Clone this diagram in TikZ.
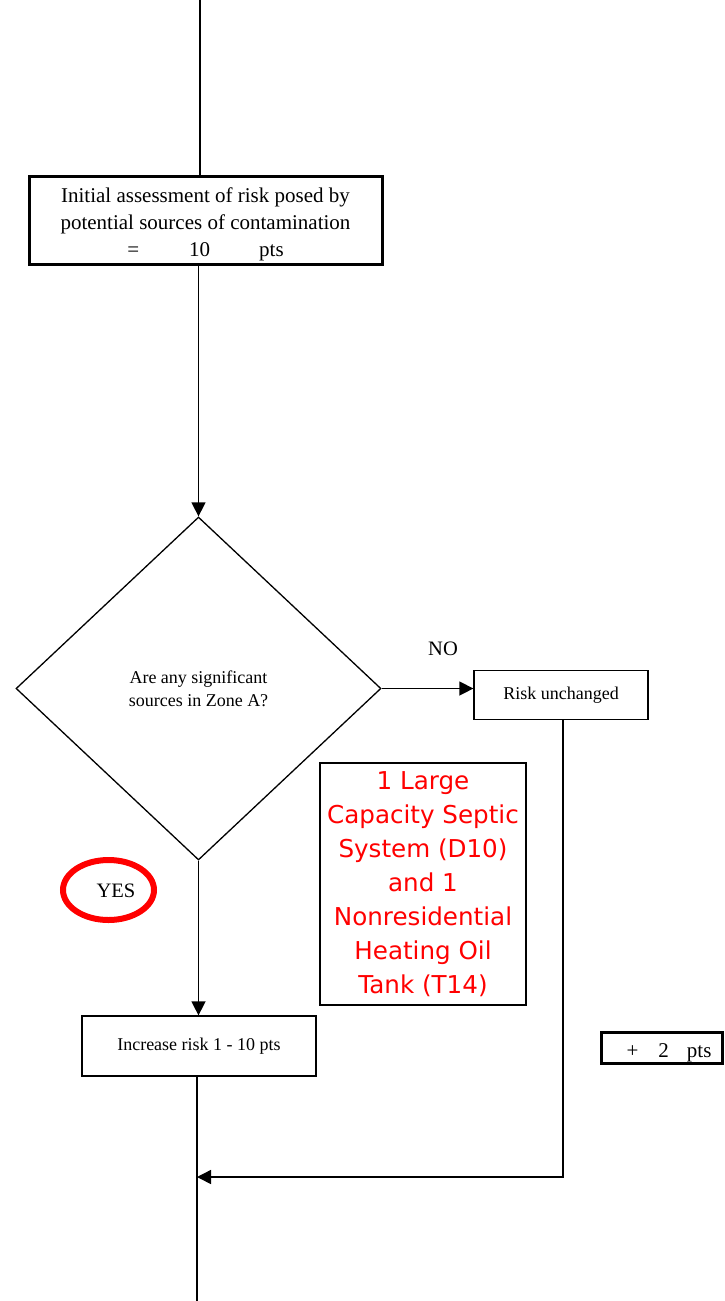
\documentclass[tikz,border=0pt]{standalone}
\usepackage{fontspec}
\setmainfont{Liberation Serif}
\newfontfamily\redsans{DejaVu Sans}
\usetikzlibrary{shapes.geometric,arrows.meta}
\begin{document}
\begin{tikzpicture}[x=1pt,y=-1pt,
  conn/.style={line width=1.5pt},
  arrowconn/.style={conn,-{Triangle[length=14pt,width=14pt]}},
  thinbox/.style={draw,line width=1.3pt,inner sep=0pt,font=\fontsize{18}{23}\selectfont},
  thickbox/.style={draw,line width=3pt,inner sep=0pt},
  bigtext/.style={font=\fontsize{21}{27}\selectfont,inner sep=0pt}]
\useasboundingbox (0,0) rectangle (725,1301);
% coordinates
\coordinate (top) at (200,0);
\coordinate (bot) at (197,1301);
\coordinate (merge) at (197,1177);
\coordinate (rturn) at (563,1177);
% nodes
\node[thickbox,minimum width=353pt,minimum height=88pt] (init) at (205.5,220) {};
\node[bigtext,align=center] (inittext) at (205.5,224) {Initial assessment of risk posed by\\potential sources of contamination\\=\hspace*{50pt}10\hspace*{49pt}pts};
\node[draw,shape=diamond,line width=1.3pt,minimum width=365pt,minimum height=343pt,inner sep=0pt,align=center,font=\fontsize{18}{23}\selectfont] (dia) at (198.5,688.5) {Are any significant\\sources in Zone A?};
\node[thinbox,minimum width=174pt,minimum height=49pt] (risk) at (561,695) {Risk unchanged};
\node[thinbox,minimum width=234pt,minimum height=60pt] (inc) at (199,1046) {Increase risk 1 - 10 pts};
\node[bigtext,anchor=base,font=\fontsize{20.5}{24}\selectfont] (no) at (443,655) {NO};
\node[draw=red,line width=6pt,shape=ellipse,minimum width=91pt,minimum height=60pt,inner sep=0pt] (yesring) at (108.5,890) {};
\node[bigtext,anchor=base,font=\fontsize{20.5}{24}\selectfont] (yes) at (116,897) {YES};
\node[draw,line width=1.3pt,minimum width=206pt,minimum height=242pt,inner sep=0pt,align=center,text=red,font=\redsans\fontsize{24.6}{34.1}\selectfont] (note) at (423,884) {1 Large\\Capacity Septic\\System (D10)\\and 1\\Nonresidential\\Heating Oil\\Tank (T14)};
\node[thickbox,minimum width=121pt,minimum height=31pt] (plus) at (661.5,1048) {};
\node[bigtext,anchor=base] (plustext) at (669,1057) {+\hspace*{20pt}2\hspace*{18pt}pts};
% connectors
\draw[conn] (top) -- (top |- init.north);
\draw[arrowconn] (init.south -| dia.north) -- (dia.north);
\draw[arrowconn] (dia.east) -- (risk.west |- dia.east);
\draw[arrowconn] (dia.south) -- (inc.north -| dia.south);
\draw[conn] (inc.south -| bot) -- (bot);
\draw[arrowconn] (risk.south -| rturn) -- (rturn) -- (merge);
\end{tikzpicture}
\end{document}
